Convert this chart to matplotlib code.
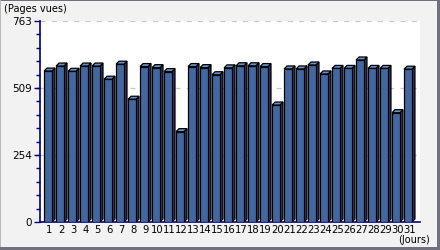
import matplotlib
matplotlib.use("Agg")
import matplotlib.pyplot as plt
from matplotlib.patches import Polygon, Rectangle

days = [str(i) for i in range(1, 32)]
views = [573, 592, 572, 592, 592, 542, 599, 466, 590, 586, 571, 343, 590, 586, 559,
         585, 593, 593, 590, 444, 581, 581, 596, 562, 583, 583, 615, 583, 583, 415, 580]
ytick_vals = [0, 254, 509, 763]
ymax = 763

fig = plt.figure(figsize=(4.4, 2.5), dpi=100)
fig.patch.set_facecolor("#f2f2f2")
# frame border: thin top/left, thick right/bottom
W, H = 440, 250
border = "#707080"
fig.add_artist(Rectangle((0, 1 - 1/H), 1, 1/H, transform=fig.transFigure,
                         facecolor=border, edgecolor="none"))
fig.add_artist(Rectangle((0, 0), 1/W, 1, transform=fig.transFigure,
                         facecolor="#b8b8c0", edgecolor="none"))
fig.add_artist(Rectangle((1 - 3/W, 0), 3/W, 1, transform=fig.transFigure,
                         facecolor=border, edgecolor="none"))
fig.add_artist(Rectangle((0, 0), 1, 3/H, transform=fig.transFigure,
                         facecolor=border, edgecolor="none"))

ax = fig.add_axes([40/440, 28/250, 380/440, 201/250])
ax.set_facecolor("white")
ax.set_xlim(0.33, 32.0)
ax.set_ylim(0, ymax)

front = "#41699f"
topc = "#6b92c6"
sidec = "#1f3a60"
w = 0.66
dx = 0.25
dy = 11.4
for i, v in enumerate(views):
    x = i + 1
    x0 = x - w/2
    x1 = x + w/2
    ax.add_patch(Polygon([(x1, 0), (x1 + dx, dy), (x1 + dx, v + dy), (x1, v)],
                         closed=True, facecolor=sidec, edgecolor="black", linewidth=0.9, zorder=3))
    ax.add_patch(Polygon([(x0, v), (x0 + dx, v + dy), (x1 + dx, v + dy), (x1, v)],
                         closed=True, facecolor=topc, edgecolor="black", linewidth=0.9, zorder=3))
    ax.bar(x, v, width=w, color=front, edgecolor="black", linewidth=0.9, zorder=4)

for g in ytick_vals[1:]:
    ax.axhline(g, color="#c8c8c8", linewidth=0.9, linestyle=(0, (4, 5)), zorder=1)

ax.set_yticks(ytick_vals)
ax.set_yticklabels([str(t) for t in ytick_vals], fontsize=7.5, color="black")
minor = [i * ymax / 15 for i in range(16)]
ax.set_yticks(minor, minor=True)
ax.tick_params(axis="y", which="major", length=4, color="#000080", width=1, pad=2)
ax.tick_params(axis="y", which="minor", length=3, color="#000080", width=1)
ax.set_xticks([i + 1.12 for i in range(31)])
ax.set_xticklabels(days, fontsize=7.2)
ax.tick_params(axis="x", length=0, pad=2)

for s in ["top", "right"]:
    ax.spines[s].set_visible(False)
ax.spines["left"].set_color("#000080")
ax.spines["bottom"].set_color("#000080")
ax.spines["left"].set_linewidth(1.2)
ax.spines["bottom"].set_linewidth(1.2)

fig.text(4/440, 1 - 9/250, "(Pages vues)", fontsize=7, va="center", ha="left")
fig.text(430/440, 1 - 240/250, "(Jours)", fontsize=7, va="center", ha="right")

fig.savefig("out.png", dpi=100, facecolor=fig.get_facecolor())
